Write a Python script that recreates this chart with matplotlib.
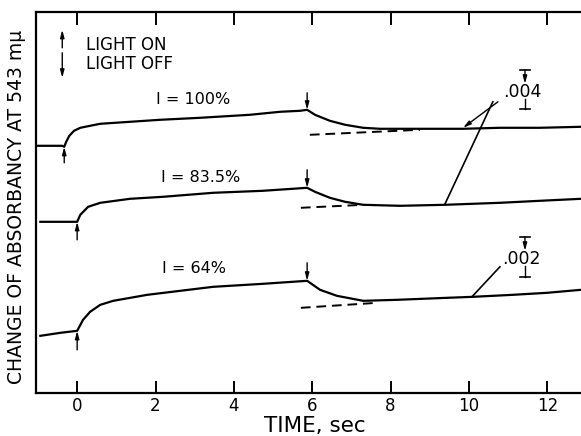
"""
Absorbancy change at 543 mu on light on / light off, three light intensities.
"""
import matplotlib
matplotlib.use("Agg")
import matplotlib.pyplot as plt

# recorder traces: time (sec) and pen deflection (arbitrary chart units)
t_100 = [-1.02, -0.38, -0.33, -0.28, -0.20, -0.08, 0.08, 0.33, 0.59, 1.35, 2.12,
         3.14, 4.41, 5.18, 5.69, 5.87, 6.07, 6.45, 6.84, 7.30, 7.73, 8.75, 9.85,
         10.79, 11.81, 12.86]
y_100 = [247, 247, 246, 251, 257, 262, 265, 267, 269, 271, 273, 275, 278, 281,
         282, 283, 278, 272, 268, 265, 264, 264, 264, 265, 265, 266]

t_835 = [-0.94, 0.0, 0.08, 0.28, 0.59, 1.35, 2.19, 3.47, 4.74, 5.87, 6.07, 6.45,
         6.84, 7.30, 8.24, 9.39, 10.79, 11.81, 12.86]
y_835 = [171, 171, 178, 186, 190, 194, 196, 200, 202, 205, 201, 195, 191, 188,
         187, 188, 190, 192, 194]

t_64 = [-0.94, -0.43, 0.0, 0.15, 0.33, 0.59, 0.92, 1.79, 2.63, 3.47, 4.74, 5.87,
        6.20, 6.63, 7.30, 8.16, 9.44, 10.10, 11.12, 11.99, 12.86]
y_64 = [57, 60, 62, 73, 81, 88, 92, 98, 102, 106, 109, 112, 103, 97, 92, 93, 95,
        96, 98, 100, 103]

traces = [(t_100, y_100), (t_835, y_835), (t_64, y_64)]
labels = ["I = 100%", "I = 83.5%", "I = 64%"]
label_pos = [(2.96, 293), (3.14, 215), (2.98, 124)]

# extrapolated dark baselines (dashed)
base_t = [(5.94, 8.75), (5.71, 7.30), (5.71, 7.65)]
base_y = [(258, 263), (185, 188), (85, 90)]

# light on / light off marks: (time, tail y, tip y)
light_on = [(-0.33, 230, 246), (0.0, 153, 171), (0.0, 43, 62)]
light_off = [(5.87, 300, 283), (5.87, 223, 205), (5.87, 130, 112)]

x_ticks = [0, 2, 4, 6, 8, 10, 12]

fig = plt.figure(figsize=(5.81, 4.36), dpi=100)
ax = fig.add_axes([0.062, 0.099, 0.938, 0.874])

for (t, y) in traces:
    ax.plot(t, y, color="black", lw=1.6, solid_joinstyle="round")

for (t0, t1), (y0, y1) in zip(base_t, base_y):
    ax.plot([t0, t1], [y0, y1], color="black", lw=1.4, dashes=(5, 3))

for txt, (x, y) in zip(labels, label_pos):
    ax.text(x, y, txt, ha="center", va="center", fontsize=11.5)

arrow_kw = dict(arrowstyle="-|>,head_length=0.45,head_width=0.12",
                color="black", lw=1.0, shrinkA=0, shrinkB=0)
for (t, y0, y1) in light_on + light_off:
    ax.annotate("", xy=(t, y1), xytext=(t, y0), arrowprops=arrow_kw)

# legend for arrows
ax.annotate("", xy=(-0.38, 363), xytext=(-0.38, 345), arrowprops=arrow_kw)
ax.annotate("", xy=(-0.38, 315), xytext=(-0.38, 340), arrowprops=arrow_kw)
ax.text(0.23, 348, "LIGHT ON", ha="left", va="center", fontsize=12)
ax.text(0.23, 329, "LIGHT OFF", ha="left", va="center", fontsize=12)

# calibration bars
def cal_bar(x, y_bot, y_top, y_txt, txt):
    cap = 0.12
    ax.plot([x - cap, x + cap], [y_top, y_top], color="black", lw=1.2)
    ax.plot([x - cap, x + cap], [y_bot, y_bot], color="black", lw=1.2)
    ax.annotate("", xy=(x, y_txt + 8), xytext=(x, y_top), arrowprops=arrow_kw)
    ax.plot([x, x], [y_bot, y_txt - 7], color="black", lw=1.0)
    ax.text(x - 0.08, y_txt, txt, ha="center", va="center", fontsize=12.5)

cal_bar(11.43, 284, 323, 301, ".004")
cal_bar(11.43, 116, 156, 134, ".002")

# pointer lines from the calibration labels
ax.annotate("", xy=(9.85, 265), xytext=(10.74, 291), arrowprops=arrow_kw)
ax.plot([10.61, 9.39], [291, 189], color="black", lw=1.2)
ax.plot([10.79, 10.10], [126, 97], color="black", lw=1.2)

ax.set_xlim(-1.05, 12.86)
ax.set_ylim(0, 381)
ax.set_xticks(x_ticks)
ax.set_xticklabels([str(v) for v in x_ticks], fontsize=12)
ax.set_yticks([])
ax.tick_params(axis="x", direction="in", length=9, width=1.4, top=True, pad=3)
ax.spines["right"].set_visible(False)
for s in ("left", "top", "bottom"):
    ax.spines[s].set_linewidth(1.6)

# axis titles placed in figure coords so they stay inside the canvas
fig.text(0.542, 0.022, "TIME, sec", ha="center", va="center", fontsize=15.5)
fig.text(0.029, 0.525, "CHANGE OF ABSORBANCY AT 543 m\u03bc", rotation=90,
         ha="center", va="center", fontsize=13.5)

fig.savefig("out.png", dpi=100)
